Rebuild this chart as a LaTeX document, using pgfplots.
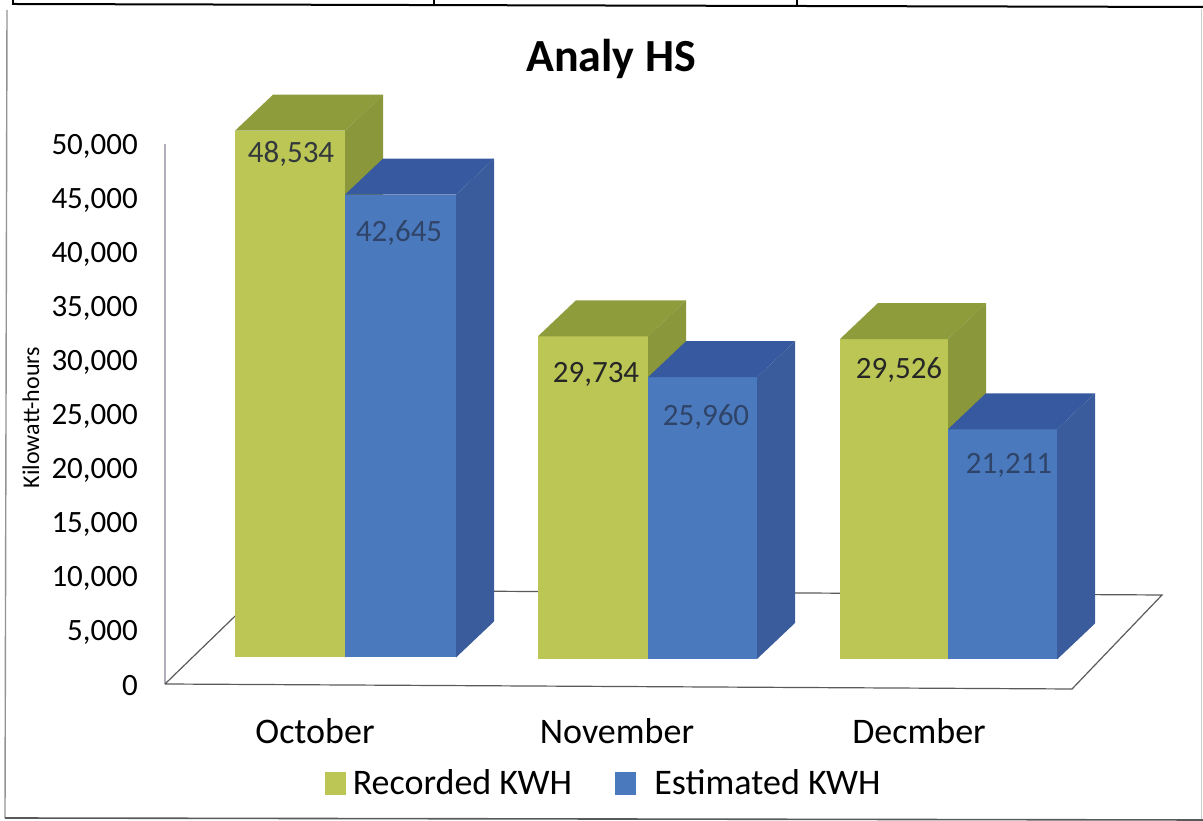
\documentclass[border=0pt]{standalone}
\usepackage{fontspec}
\setmainfont{Carlito}
\usepackage{pgfplots}
\pgfplotsset{compat=1.18}
\definecolor{gfront}{HTML}{BBC654}
\definecolor{gtop}{HTML}{8F9C3C}
\definecolor{gside}{HTML}{8A973A}
\definecolor{bfront}{HTML}{4A7ABD}
\definecolor{btop}{HTML}{36599F}
\definecolor{bside}{HTML}{3B5C9C}
\definecolor{floorline}{HTML}{5A5A5A}
\definecolor{yline}{HTML}{B5AEBB}
\definecolor{lab}{HTML}{33383C}
\definecolor{labb}{HTML}{2F4468}
% arguments: left x, right x, floor offset, kWh, front, top, side
\newcommand{\barbox}[7]{%
  \addplot[fill=#5,draw=none,forget plot] table[row sep=\\,x expr=\thisrow{x}+38*\thisrow{d},y expr=\thisrow{v}*1.005+#3+3333*\thisrow{d}]
    {x v d\\ #1 0 0\\ #2 0 0\\ #2 #4 0\\ #1 #4 0\\};
  \addplot[fill=#6,draw=none,forget plot] table[row sep=\\,x expr=\thisrow{x}+38*\thisrow{d},y expr=\thisrow{v}*1.005+#3+3333*\thisrow{d}]
    {x v d\\ #1 #4 0\\ #2 #4 0\\ #2 #4 1\\ #1 #4 1\\};
  \addplot[fill=#7,draw=none,forget plot] table[row sep=\\,x expr=\thisrow{x}+38*\thisrow{d},y expr=\thisrow{v}*1.005+#3+3333*\thisrow{d}]
    {x v d\\ #2 0 0\\ #2 0 1\\ #2 #4 1\\ #2 #4 0\\};
}
\begin{document}
\begin{tikzpicture}[x=1pt,y=1pt]
\path[use as bounding box] (0,0) rectangle (1203,821);
% scanned page frame
\draw[color=black,line width=2pt] (12,817) -- (600,815.5) -- (1203,814);
\draw[color=black,line width=1.2pt] (13,821) -- (13,817) (434,821) -- (434,816) (797,821) -- (797,815);
\draw[color=gray!85,line width=1.4pt] (7,811) -- (5,3);
\draw[color=black!65,line width=1.6pt] (5,3) -- (1203,1);
\draw[color=gray!40,line width=1pt] (1201,812) -- (1201,2);
\begin{axis}[
  at={(165pt,137pt)},anchor=south west,
  scale only axis,width=1000pt,height=540pt,
  xmin=165,xmax=1165,ymin=0,ymax=50000,
  clip=false,
  axis line style={draw=none},
  tick style={draw=none},
  xtick={315,617,919},
  xticklabels={October,{\raisebox{-1pt}{November}},{\raisebox{-3pt}{Decmber}}},
  xticklabel style={font=\fontsize{36}{40}\selectfont,anchor=center,yshift=-47pt},
  ytick={0,5000,...,50000},
  scaled y ticks=false,
  yticklabel style={font=\fontsize{31}{36}\selectfont,anchor=east,xshift=-27pt,yshift=-2pt,inner sep=0pt},
  /pgf/number format/.cd,fixed,1000 sep={,},min exponent for 1000 sep=0,assume math mode=true,
  /pgfplots/.cd,
  ylabel={Kilowatt-hours},
  ylabel style={font=\fontsize{24}{28}\selectfont,at={(axis description cs:-0.134,0.4935)},anchor=center},
  title={\textbf{Analy HS}},
  title style={font=\fontsize{46}{50}\selectfont,at={(axis description cs:0.446,1.146)},anchor=center},
  legend style={at={(axis cs:604,-9150)},anchor=center,draw=none,fill=none,legend columns=2,
    font=\fontsize{36}{40}\selectfont,
    /tikz/every odd column/.append style={column sep=5pt},
    /tikz/every even column/.append style={column sep=41pt}},
  legend image code/.code={\fill[#1] (0pt,-11pt) rectangle (20pt,11pt);},
]
% floor and y axis line
\addplot[color=yline,line width=1.1pt,forget plot] coordinates {(165,0) (165,50000)};
\addplot[color=floorline,line width=1.2pt,forget plot] coordinates {(165,0) (1072,-463) (1162,8241) (262,8704) (165,0)};
% bars: kWh values
\barbox{235}{345}{2454}{48534}{gfront}{gtop}{gside}
\barbox{345}{456}{2454}{42645}{bfront}{btop}{bside}
\barbox{538}{648}{2315}{29734}{gfront}{gtop}{gside}
\barbox{648}{757}{2315}{25960}{bfront}{btop}{bside}
\barbox{840}{948}{2270}{29526}{gfront}{gtop}{gside}
\barbox{948}{1057}{2270}{21211}{bfront}{btop}{bside}
\addlegendimage{gfront}
\addlegendentry{Recorded KWH}
\addlegendimage{bfront}
\addlegendentry{\hspace{12pt}Estimated KWH}
\begin{scope}[every node/.style={font=\fontsize{31}{36}\selectfont,anchor=center}]
\node[text=lab] at (axis cs:291,49080) {48,534};
\node[text=labb] at (axis cs:399,41764) {42,645};
\node[text=black!85] at (axis cs:596,28696) {29,734};
\node[text=labb] at (axis cs:706,24715) {25,960};
\node[text=black!85] at (axis cs:899,29067) {29,526};
\node[text=labb] at (axis cs:1009,20283) {21,211};
\end{scope}
\end{axis}
\end{tikzpicture}
\end{document}
